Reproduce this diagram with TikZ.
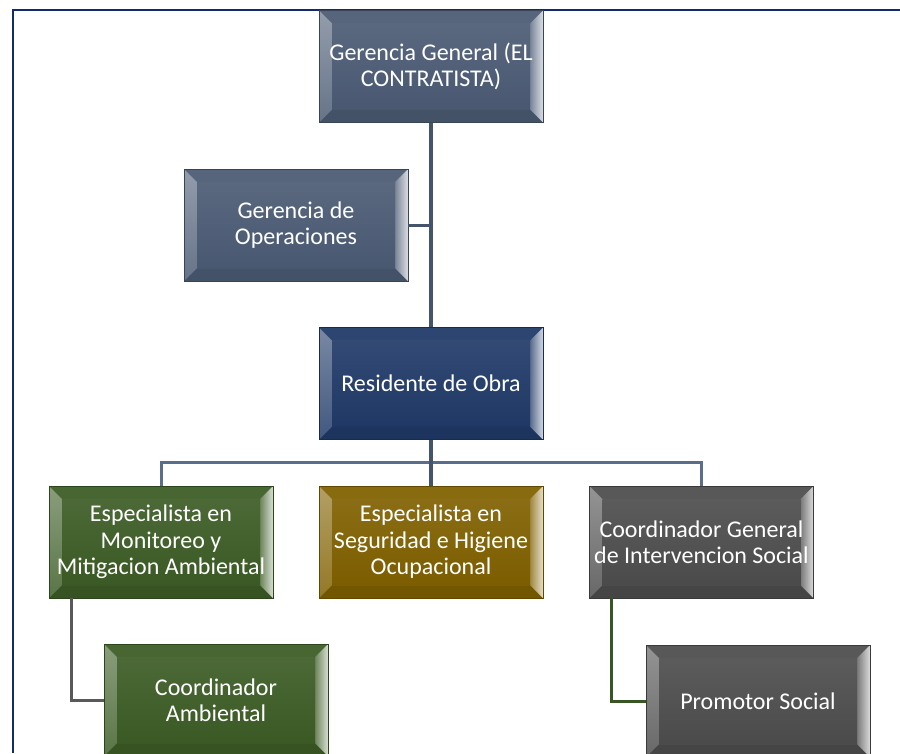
\documentclass[tikz,border=0pt]{standalone}
\usepackage{fontspec}
\setmainfont{Carlito}
\usetikzlibrary{calc}
\definecolor{frameblue}{HTML}{102C6C}
\definecolor{slate}{HTML}{4B5B74}
\definecolor{navy}{HTML}{203A68}
\definecolor{leaf}{HTML}{3C5C25}
\definecolor{gold}{HTML}{806000}
\definecolor{coal}{HTML}{4D4D4D}
\definecolor{lineslate}{HTML}{44546A}
\definecolor{barslate}{HTML}{5A6D8D}
\definecolor{linegray}{HTML}{595959}
\definecolor{linegreen}{HTML}{375623}
\tikzset{
  boxsty/.style={
    draw=#1!75!black, line width=0.6pt,
    fill=#1,
    minimum width=224pt, minimum height=112pt, inner sep=0pt,
    text=white, align=center, font=\fontsize{24}{26.5}\selectfont,
    path picture={
      \coordinate (sw) at (path picture bounding box.south west);
      \coordinate (ne) at (path picture bounding box.north east);
      % top bevel
      \fill[#1!94!white] (sw |- ne) -- (ne) -- ([shift={(-13pt,-13pt)}]ne) -- ([shift={(13pt,-13pt)}]sw |- ne) -- cycle;
      % bottom bevel
      \fill[#1!90!black] (sw) -- (ne |- sw) -- ([shift={(-13pt,13pt)}]ne |- sw) -- ([shift={(13pt,13pt)}]sw) -- cycle;
      % left bevel
      \shade[top color=#1!60!white, bottom color=#1!85!white] (sw |- ne) -- ([shift={(13pt,-13pt)}]sw |- ne) -- ([shift={(13pt,13pt)}]sw) -- (sw) -- cycle;
      % right bevel
      \shade[left color=#1!75!white, right color=#1!20!white] (ne) -- ([shift={(-13pt,-13pt)}]ne) -- ([shift={(-13pt,13pt)}]ne |- sw) -- (ne |- sw) -- cycle;
      % face
      \shade[top color=#1!92!white, bottom color=#1!97!black] ([shift={(13pt,13pt)}]sw) rectangle ([shift={(-13pt,-13pt)}]ne);
    }},
  mainline/.style={draw=lineslate, line width=4pt},
  barline/.style={draw=barslate, line width=3pt},
  grayline/.style={draw=linegray, line width=3pt},
  greenline/.style={draw=linegreen, line width=3pt}
}
\begin{document}
\begin{tikzpicture}[x=1pt,y=-1pt]
\useasboundingbox (0,0) rectangle (900,753);
\clip (0,0) rectangle (900,753);
\fill[white] (0,0) rectangle (900,753);
% frame
\draw[frameblue, line width=2.5pt] (13,753) -- (13,10) -- (900,10);
% junction of the lower branches
\coordinate (bar) at (431,462);
% nodes
\node[boxsty=slate] (gg) at (431,66.5) {Gerencia General (EL\\CONTRATISTA)};
\node[boxsty=slate] (ops) at (296,225) {Gerencia de\\Operaciones};
\node[boxsty=navy] (res) at (431,383.5) {Residente de Obra};
\node[boxsty=leaf] (mon) at (161,542) {Especialista en\\Monitoreo y\\Mitigacion Ambiental};
\node[boxsty=gold] (seg) at (431,542) {Especialista en\\Seguridad e Higiene\\Ocupacional};
\node[boxsty=coal] (cgis) at (701.5,542) {Coordinador General\\de Intervencion Social};
\node[boxsty=leaf] (camb) at (216,700) {Coordinador\\Ambiental};
\node[boxsty=coal] (prom) at (758,701) {Promotor Social};
% connectors
\draw[mainline] (gg.south) -- (res.north);
\draw[mainline, line width=3pt] (ops.east) -- (ops.east -| gg.south);
\draw[barline] (bar) -| (mon.north);
\draw[barline] (bar) -| (cgis.north);
\draw[mainline] (res.south) -- (seg.north);
\draw[grayline] ([xshift=-90pt]mon.south) |- (camb.west);
\draw[greenline] ([xshift=-90pt]cgis.south) |- (prom.west);
\end{tikzpicture}
\end{document}
